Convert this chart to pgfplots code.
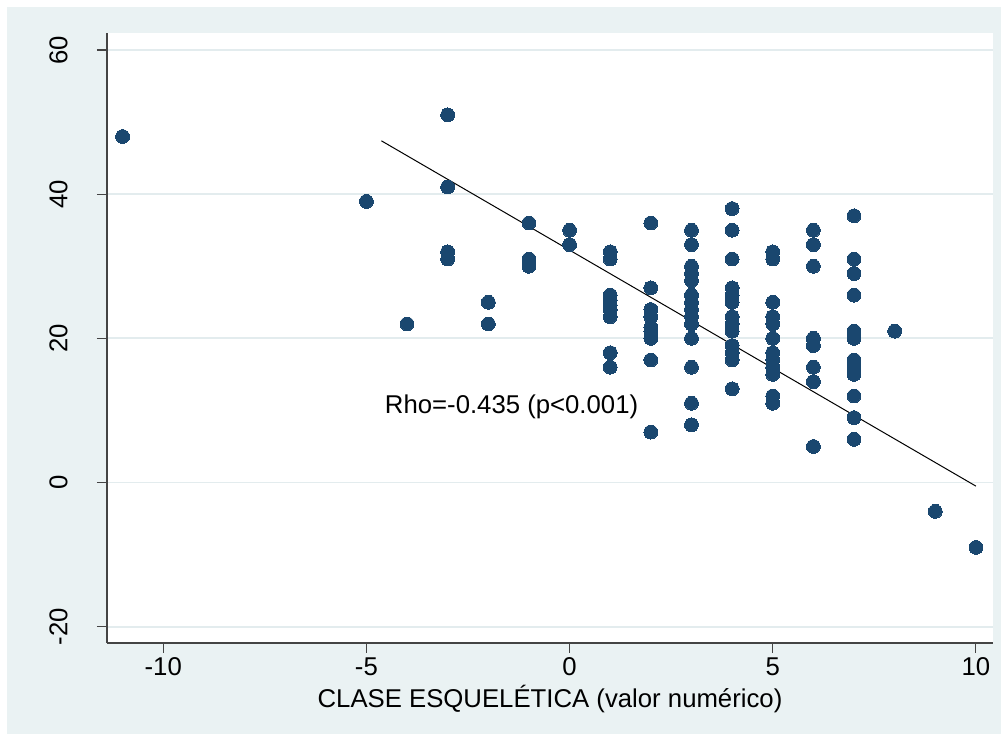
\documentclass[border=0pt]{standalone}
\usepackage{fontspec}
\setmainfont{Liberation Sans}
\usepackage{pgfplots}
\pgfplotsset{compat=1.18}
\definecolor{bgc}{HTML}{EAF2F3}
\definecolor{gridc}{HTML}{E3ECEE}
\definecolor{dotc}{HTML}{1A476F}
\definecolor{axc}{HTML}{444444}
\begin{document}
\begin{tikzpicture}
\fill[white] (-80.25pt,-69pt) rectangle (675.75pt,482.25pt);
\fill[bgc] (-75pt,-68.25pt) rectangle (670.5pt,477pt);
\begin{axis}[
  at={(0,0)}, anchor=south west, scale only axis,
  width=664.5pt, height=457.5pt,
  xmin=-11.384, xmax=10.42, ymin=-22.26, ymax=62.36,
  axis background/.style={fill=white},
  axis x line*=bottom, axis y line*=left,
  axis line style={axc, line width=0.8pt},
  xtick={-10,-5,0,5,10}, ytick={-20,0,20,40,60},
  ymajorgrids, major grid style={gridc, line width=1.3pt},
  tick align=outside, major tick length=7.5pt,
  tick style={axc, line width=0.8pt},
  /pgf/number format/assume math mode=true,
  tick label style={font=\fontsize{19.3}{23}\selectfont},
  yticklabel style={rotate=90, anchor=south},
  yticklabel shift=18.5pt,
  xlabel={CLASE ESQUELÉTICA (valor numérico)},
  xlabel style={font=\fontsize{19.3}{23}\selectfont, at={(axis description cs:0.5,0)}, anchor=base, yshift=-48.5pt},
  clip=false,
]
\addplot[only marks, mark=*, mark size=5.2pt, mark options={fill=dotc, draw=dotc, line width=0pt}] coordinates {
(-11,48)
(-5,39)
(-4,22)
(-3,51) (-3,41) (-3,32) (-3,31)
(-2,25) (-2,25) (-2,22)
(-1,36) (-1,31) (-1,30)
(0,35) (0,33)
(1,32) (1,31) (1,26) (1,25.3) (1,24.6) (1,24) (1,23) (1,18) (1,16)
(2,36) (2,27) (2,24) (2,23) (2,21.5) (2,21) (2,20) (2,17) (2,7)
(3,35) (3,33) (3,30) (3,29) (3,28) (3,26) (3,25) (3,24) (3,23) (3,22) (3,20) (3,16) (3,11) (3,8)
(4,38) (4,35) (4,31) (4,27) (4,26) (4,25) (4,23) (4,22) (4,21) (4,19) (4,18) (4,17) (4,13)
(5,32) (5,31) (5,25) (5,23) (5,22) (5,20) (5,18) (5,17) (5,16) (5,15) (5,12) (5,11)
(6,35) (6,33) (6,30) (6,20) (6,19) (6,16) (6,14) (6,5)
(7,37) (7,31) (7,29) (7,26) (7,21) (7,20) (7,17) (7,16) (7,15) (7,12) (7,9) (7,6)
(8,21)
(9,-4)
(10,-9)
};
\addplot[black, line width=0.75pt] coordinates {(-4.63,47.4) (10,-0.5)};
\node[anchor=base west, inner sep=0pt, font=\fontsize{19.3}{23}\selectfont] at (axis cs:-4.55,9.58) {Rho=-0.435 (p<0.001)};
\end{axis}
\end{tikzpicture}
\end{document}
